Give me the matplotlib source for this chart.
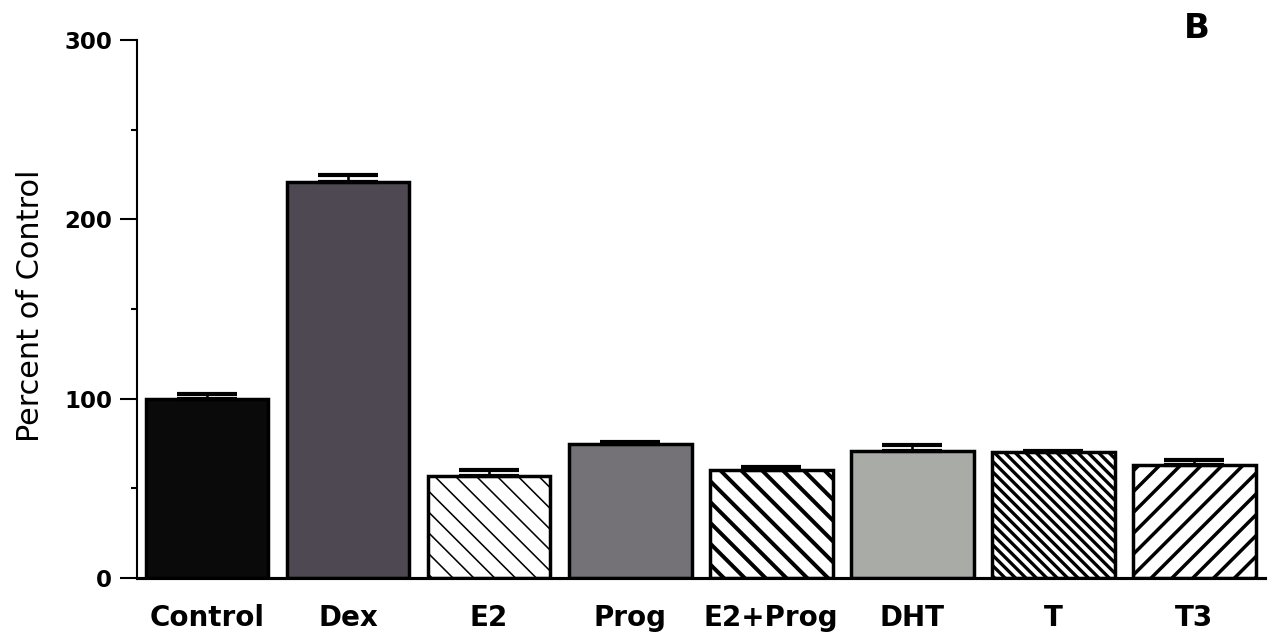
import matplotlib
matplotlib.use("Agg")
import matplotlib.pyplot as plt
from matplotlib.ticker import MultipleLocator

# ---- data ----
categories = ["Control", "Dex", "E2", "Prog", "E2+Prog", "DHT", "T", "T3"]
values = [100, 221, 57, 74.5, 60.5, 71, 70, 63]
errors = [2.5, 3.5, 3, 1.5, 1.5, 3, 1, 3]
y_ticks = [0, 100, 200, 300]
y_label = "Percent of Control"
panel_label = "B"

# ---- styles ----
face_colors = ["#0a0a0a", "#4e4852", "white", "#747276", "white", "#a9aca6", "white", "white"]
hatches = [None, None, "\\\\", None, "\\\\", None, "\\\\\\\\", "//"]
hatch_lw = [1.0, 1.0, 0.9, 1.0, 2.3, 1.0, 1.9, 2.0]

DPI = 125
fig = plt.figure(figsize=(1280 / DPI, 642 / DPI), dpi=DPI)
W, H = 1280, 642
ax = fig.add_axes([137 / W, 1 - 578 / H, (1265 - 137) / W, (578 - 40) / H])

x = list(range(len(categories)))
for i in x:
    with plt.rc_context({"hatch.linewidth": hatch_lw[i]}):
        bars = ax.bar(i, values[i], width=0.87, color=face_colors[i],
                      edgecolor="black", linewidth=2.0, hatch=hatches[i], zorder=2)
        for b in bars:
            if hasattr(b, "set_hatch_linewidth"):
                b.set_hatch_linewidth(hatch_lw[i])

ax.errorbar(x, values, yerr=[[0] * len(x), errors], fmt="none", ecolor="black",
            elinewidth=1.5, capsize=17, capthick=2.4, zorder=3)

ax.set_xlim(-0.496, 7.5)
ax.set_ylim(0, 300)
ax.set_yticks(y_ticks)
ax.yaxis.set_minor_locator(MultipleLocator(50))
ax.set_xticks(x)
ax.set_xticklabels(categories, fontsize=16, fontweight="bold", family="DejaVu Sans")
for lab in ax.get_yticklabels():
    lab.set_fontsize(13.2)
    lab.set_fontweight("bold")

ax.tick_params(axis="x", length=0, pad=15)
ax.tick_params(axis="y", which="major", length=9.8, width=1.2, direction="out", pad=4.5)
ax.tick_params(axis="y", which="minor", length=3.5, width=1.2, direction="out")

for s in ["top", "right"]:
    ax.spines[s].set_visible(False)
ax.spines["left"].set_linewidth(1.2)
ax.spines["bottom"].set_linewidth(1.8)

ax.set_ylabel(y_label, fontsize=17.5)
ax.yaxis.set_label_coords(-0.0816, 0.506)

fig.text(1197 / W, 1 - 28 / H, panel_label, fontsize=19.5, fontweight="bold",
         ha="center", va="center")

fig.savefig("out.png", dpi=DPI)
